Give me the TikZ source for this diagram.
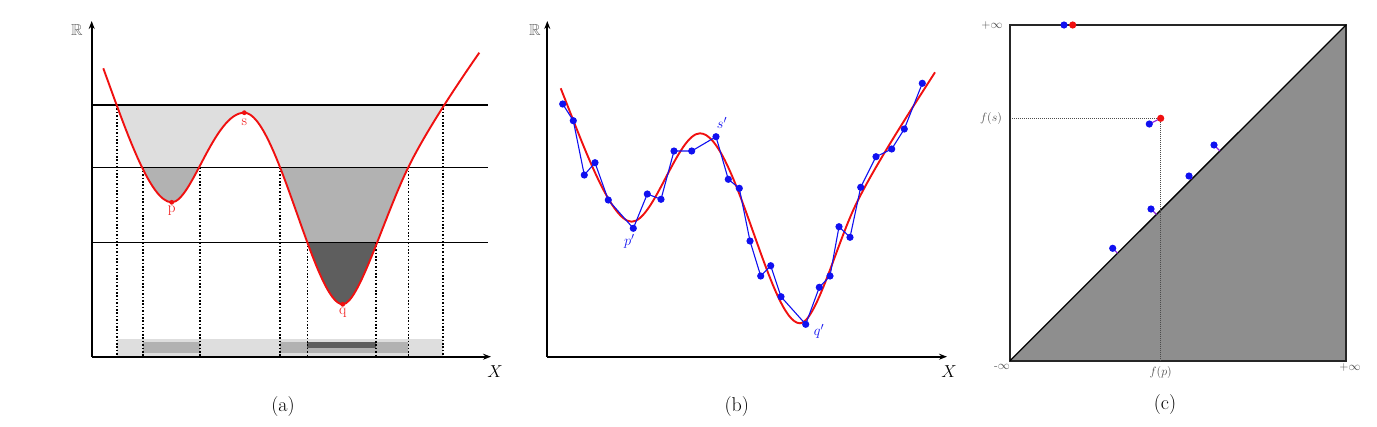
\documentclass[tikz,border=0pt]{standalone}
\usepackage{amssymb}
\usetikzlibrary{calc,arrows.meta}
\definecolor{lg}{HTML}{DEDEDE}
\definecolor{mg}{HTML}{B2B2B2}
\definecolor{dg}{HTML}{5E5E5E}
\definecolor{cg}{HTML}{8E8E8E}
\definecolor{myred}{HTML}{F01010}
\definecolor{myblue}{HTML}{1010F0}
\definecolor{mypurple}{HTML}{9020E0}
\begin{document}
\begin{tikzpicture}[x=1pt,y=-1pt,
  axis/.style={line width=1.7pt,-{Stealth[length=8pt,width=6pt]}},
  level/.style={line width=1.2pt},
  vdot/.style={line width=1.6pt,dash pattern=on 1.6pt off 1.8pt},
  redcurve/.style={myred,line width=1.9pt},
  reddot/.style={fill=myred,draw=none},
  bluedot/.style={fill=myblue,draw=none},
  captext/.style={font=\fontsize{20}{22}\selectfont},
  axlabel/.style={font=\fontsize{16}{18}\selectfont},
  ptlabel/.style={font=\fontsize{15}{17}\selectfont},
  small/.style={font=\fontsize{11.5}{13}\selectfont,text=black!70},
  projline/.style={mypurple,line width=1.1pt}]
\useasboundingbox (0,0) rectangle (1377,426);

% ================= panel (a) =================
\begin{scope}
\clip (103.3,68.3) .. controls (125,127.8) and (150,202.3) .. (171.7,202.3)
  .. controls (191.7,202.3) and (214.3,112.7) .. (244.3,112.7)
  .. controls (277,112.7) and (314.5,304.3) .. (342.7,304.3)
  .. controls (358.7,304.3) and (383.3,218.6) .. (408.3,167.3)
  .. controls (428.3,126.3) and (467.3,69.9) .. (479.3,52.7)
  -- (479.3,20) -- (103.3,20) -- cycle;
\fill[lg] (92,105) rectangle (488,167.3);
\fill[mg] (92,167.3) rectangle (488,242.3);
\fill[dg] (92,242.3) rectangle (488,320);
\end{scope}
% bars on the X axis
\fill[lg] (116.7,339.3) rectangle (442.7,356.7);
\fill[mg] (142.7,341.5) rectangle (200,352.7);
\fill[mg] (280,341.5) rectangle (408.3,352.7);
\fill[dg] (307.3,341.5) rectangle (375.7,348.3);
% level lines
\draw[level] (92,105) -- (488,105);
\draw[level] (92,167.3) -- (488,167.3);
\draw[level] (92,242.3) -- (488,242.3);
% dotted verticals
\draw[vdot] (116.7,105) -- (116.7,356.7);
\draw[vdot] (142.7,167.3) -- (142.7,356.7);
\draw[vdot] (200,167.3) -- (200,356.7);
\draw[vdot] (280,167.3) -- (280,356.7);
\draw[vdot] (307.3,242.3) -- (307.3,356.7);
\draw[vdot] (375.7,242.3) -- (375.7,356.7);
\draw[vdot] (408.3,167.3) -- (408.3,356.7);
\draw[vdot] (442.7,105) -- (442.7,356.7);
% curve
\coordinate (pa) at (171.7,202.3);
\coordinate (sa) at (244.3,112.7);
\coordinate (qa) at (342.7,304.3);
\draw[redcurve] (103.3,68.3) .. controls (125,127.8) and (150,202.3) .. (pa)
  .. controls (191.7,202.3) and (214.3,112.7) .. (sa)
  .. controls (277,112.7) and (314.5,304.3) .. (qa)
  .. controls (358.7,304.3) and (383.3,218.6) .. (408.3,167.3)
  .. controls (428.3,126.3) and (467.3,69.9) .. (479.3,52.7);
\fill[reddot] (pa) circle (2.4);
\fill[reddot] (sa) circle (2.4);
\fill[reddot] (qa) circle (2.4);
\node[ptlabel,text=myred,inner sep=0pt,anchor=north] (lp) at (171.7,206) {p};
\node[ptlabel,text=myred,inner sep=0pt,anchor=north] (ls) at (244.3,119) {s};
\node[ptlabel,text=myred,inner sep=0pt,anchor=north] (lq) at (342.7,308) {q};
% axes
\coordinate (oa) at (91.7,356.7);
\coordinate (ya) at (91.7,21);
\coordinate (xa) at (491,356.7);
\draw[axis] (oa) -- (ya);
\draw[axis] (oa) -- (xa);
\node[axlabel,text=black!60] (Ra) at (77,30) {$\mathbb{R}$};
\node[axlabel] (Xa) at (495,372) {$X$};
\node[captext] (capa) at (283,407) {(a)};

% ================= panel (b) =================
\draw[redcurve] (560.7,88.3) .. controls (580.7,138.3) and (610,221.7) .. (631.7,221.7)
  .. controls (653.7,221.7) and (678,133.3) .. (700,133.3)
  .. controls (735,133.3) and (770,323.3) .. (800,323.3)
  .. controls (815,323.3) and (835.3,249.6) .. (853.3,210)
  .. controls (871.3,170.4) and (915,103.7) .. (935,72.3);
\draw[myblue,line width=1.1pt] (562.7,104) -- (573.3,120.7) -- (584.3,175) -- (595,162.7) -- (608.3,200) -- (633.3,228.3) -- (647.3,194) -- (661,199.3) -- (674,151) -- (691.7,151) -- (716,136.7) -- (728.3,179.3) -- (739.3,188.3) -- (750,241) -- (760.7,276) -- (770.7,265.7) -- (781,296.7) -- (805.7,324.3) -- (819.3,287.3) -- (830,276) -- (839,226.7) -- (850,237.3) -- (860.7,187.3) -- (876,156.7) -- (891.7,149) -- (904.3,129) -- (922.3,83.3);
\foreach \p in {(562.7,104),(573.3,120.7),(584.3,175),(595,162.7),(608.3,200),(633.3,228.3),(647.3,194),(661,199.3),(674,151),(691.7,151),(716,136.7),(728.3,179.3),(739.3,188.3),(750,241),(760.7,276),(770.7,265.7),(781,296.7),(805.7,324.3),(819.3,287.3),(830,276),(839,226.7),(850,237.3),(860.7,187.3),(876,156.7),(891.7,149),(904.3,129),(922.3,83.3)}
  \fill[bluedot] \p circle (3.6);
\node[ptlabel,text=myblue] (lpb) at (629.3,241.7) {$p'$};
\node[ptlabel,text=myblue] (lsb) at (722,123.3) {$s'$};
\node[ptlabel,text=myblue] (lqb) at (819,331.7) {$q'$};
\coordinate (ob) at (547.3,356.7);
\coordinate (yb) at (547.3,21);
\coordinate (xb) at (947,356.7);
\draw[axis] (ob) -- (yb);
\draw[axis] (ob) -- (xb);
\node[axlabel,text=black!60] (Rb) at (535,30) {$\mathbb{R}$};
\node[axlabel] (Xb) at (949,372) {$X$};
\node[captext] (capb) at (736.7,407) {(b)};

% ================= panel (c) =================
\coordinate (dl) at (1010,360.7);
\coordinate (dr) at (1346,360.7);
\coordinate (ur) at (1346,25);
\coordinate (ul) at (1010,25);
\fill[cg] (dl) -- (dr) -- (ur) -- cycle;
\draw[line width=2pt,black!85] (dl) rectangle (ur);
\draw[line width=1.3pt] (dl) -- (ur);
\coordinate (rs) at (1160.7,118.3);
\coordinate (fsy) at (1012,118.3);
\coordinate (fpx) at (1160.7,360.7);
\draw[black!70,line width=0.7pt,dash pattern=on 1pt off 1pt] (fsy) -- (rs) -- (fpx);
\coordinate (b1) at (1112.7,248.3);
\coordinate (b2) at (1151,209);
\coordinate (b3) at (1189,176);
\coordinate (b4) at (1214,145);
\coordinate (b5) at (1149.3,124);
\foreach \b in {b1,b2,b3,b4}
  \draw[projline] (\b) -- ($(dl)!(\b)!(ur)$);
\draw[projline] (b5) -- (rs);
\foreach \b in {b1,b2,b3,b4,b5}
  \fill[bluedot] (\b) circle (3.6);
\fill[reddot] (rs) circle (3.6);
\coordinate (bt) at (1064,25);
\coordinate (rt) at (1072.7,25);
\fill[bluedot] (bt) circle (3.6);
\fill[reddot] (rt) circle (3.6);
\node[small] (pinf) at (992,25) {$+\infty$};
\node[small] (fs) at (991,118.3) {$f(s)$};
\node[small] (minf) at (1002,367) {-$\infty$};
\node[small] (fp) at (1160.7,372) {$f(p)$};
\node[small] (pinf2) at (1350,367) {$+\infty$};
\node[captext] (capc) at (1165,405) {(c)};
\end{tikzpicture}
\end{document}
